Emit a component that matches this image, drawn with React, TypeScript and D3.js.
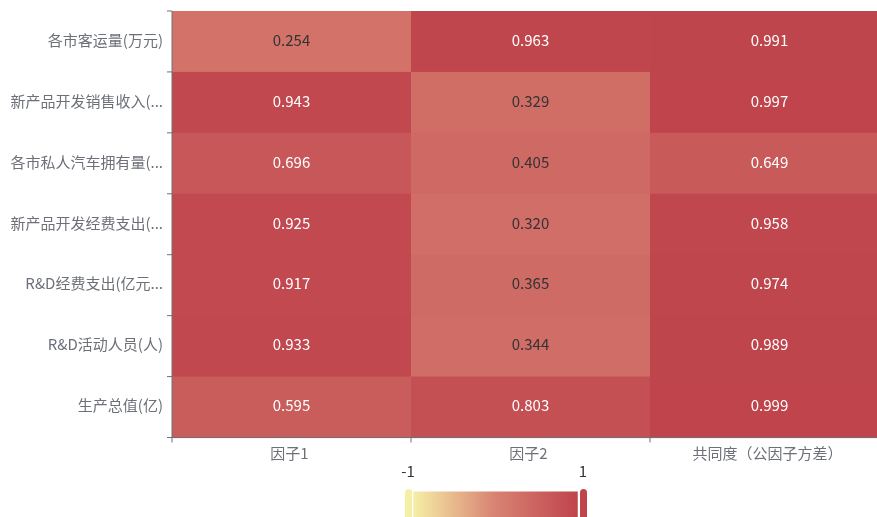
import React from "react";
import * as d3 from "d3";

const rows = [
  "各市客运量(万元)",
  "新产品开发销售收入(...",
  "各市私人汽车拥有量(...",
  "新产品开发经费支出(...",
  "R&D经费支出(亿元...",
  "R&D活动人员(人)",
  "生产总值(亿)",
];
const cols = ["因子1", "因子2", "共同度（公因子方差）"];
const factor1 = [0.254, 0.943, 0.696, 0.925, 0.917, 0.933, 0.595];
const factor2 = [0.963, 0.329, 0.405, 0.32, 0.365, 0.344, 0.803];
const communality = [0.991, 0.997, 0.649, 0.958, 0.974, 0.989, 0.999];
const visualMin = -1;
const visualMax = 1;
const colorStops = ["#f6efa6", "#d88273", "#bf444c"];

const W = 877;
const H = 517;
const FONT = "'Noto Sans CJK SC', 'Noto Sans', sans-serif";
const AXIS = "#6e7079";

export default function App() {
  const left = 172;
  const right = 889;
  const top = 11;
  const bottom = 437.5;
  const series = [factor1, factor2, communality];

  const x = d3.scaleBand<string>().domain(cols).range([left, right]);
  const y = d3.scaleBand<string>().domain(rows).range([top, bottom]);
  const color = d3
    .scaleLinear<string>()
    .domain([visualMin, 0, visualMax])
    .range(colorStops)
    .interpolate(d3.interpolateRgb);

  const cells: { r: string; c: string; v: number }[] = [];
  cols.forEach((c, ci) =>
    rows.forEach((r, ri) => cells.push({ r, c, v: series[ci][ri] }))
  );

  // visual map
  const vmX0 = 413;
  const vmX1 = 578;
  const vmY = 491.5;
  const vmH = 30;
  const vmScale = d3.scaleLinear().domain([visualMin, visualMax]).range([vmX0, vmX1]);
  const gradStops = d3.range(0, 1.0001, 0.1).map((t) => ({
    t,
    c: color(visualMin + t * (visualMax - visualMin)),
  }));

  const yBoundaries = rows.map((r) => y(r)!).concat([bottom]);
  const xBoundaries = cols.map((c) => x(c)!).concat([right]);

  return (
    <div style={{ position: "fixed", left: 0, top: 0 }}>
      <svg width={W} height={H} style={{ display: "block", fontFamily: FONT }}>
        <defs>
          <linearGradient id="vm" x1="0" x2="1" y1="0" y2="0">
            {gradStops.map((s) => (
              <stop key={s.t} offset={s.t} stopColor={s.c} />
            ))}
          </linearGradient>
        </defs>
        {cells.map((d) => (
          <rect
            key={d.r + d.c}
            x={x(d.c)!}
            y={y(d.r)!}
            width={x.bandwidth() + 0.6}
            height={y.bandwidth() + 0.6}
            fill={color(d.v)}
          />
        ))}
        {cells.map((d) => (
          <text
            key={"t" + d.r + d.c}
            x={x(d.c)! + x.bandwidth() / 2}
            y={y(d.r)! + y.bandwidth() / 2 - 1}
            dy="0.35em"
            textAnchor="middle"
            fontSize={15}
            fill={d.v < 0.5 ? "#333" : "#fff"}
          >
            {d3.format(".3f")(d.v)}
          </text>
        ))}
        {/* y axis */}
        <line x1={left} x2={left} y1={top} y2={bottom} stroke={AXIS} strokeWidth={1} />
        {yBoundaries.map((b, i) => (
          <line key={"yt" + i} x1={left - 5} x2={left} y1={b} y2={b} stroke={AXIS} />
        ))}
        {rows.map((r) => (
          <text
            key={"yl" + r}
            x={left - 9}
            y={y(r)! + y.bandwidth() / 2 - 1}
            dy="0.35em"
            textAnchor="end"
            fontSize={15}
            fill={AXIS}
          >
            {r}
          </text>
        ))}
        {/* x axis */}
        <line x1={left} x2={right} y1={bottom} y2={bottom} stroke={AXIS} />
        {xBoundaries.map((b, i) => (
          <line key={"xt" + i} x1={b} x2={b} y1={bottom} y2={bottom + 5} stroke={AXIS} />
        ))}
        {cols.map((c) => (
          <text
            key={"xl" + c}
            x={x(c)! + x.bandwidth() / 2 - 2}
            y={bottom + 21}
            textAnchor="middle"
            fontSize={15}
            fill={AXIS}
          >
            {c}
          </text>
        ))}
        {/* visual map */}
        <rect x={vmX0} y={vmY} width={vmX1 - vmX0} height={vmH} fill="url(#vm)" />
        <line x1={vmX0 - 0.5} x2={vmX0 - 0.5} y1={vmY} y2={vmY + vmH} stroke="#fff" strokeWidth={1.5} />
        <line x1={vmX1 + 0.5} x2={vmX1 + 0.5} y1={vmY} y2={vmY + vmH} stroke="#fff" strokeWidth={1.5} />
        <rect x={vmScale(visualMin) - 8} y={vmY - 2.5} width={7} height={vmH + 4} rx={3.5} fill={color(visualMin)} />
        <rect x={vmScale(visualMax) + 2} y={vmY - 2.5} width={7} height={vmH + 4} rx={3.5} fill={color(visualMax)} />
        <text x={vmScale(visualMin) - 5} y={477} textAnchor="middle" fontSize={15} fill="#333">
          {String(visualMin)}
        </text>
        <text x={vmScale(visualMax) + 5} y={477} textAnchor="middle" fontSize={15} fill="#333">
          {String(visualMax)}
        </text>
      </svg>
    </div>
  );
}
